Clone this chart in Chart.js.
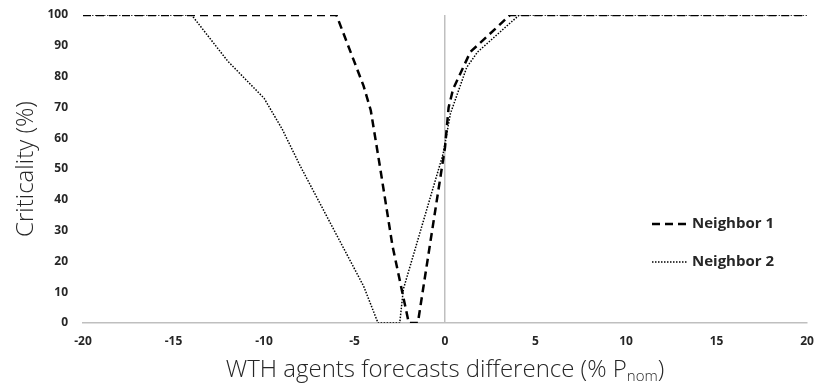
<!DOCTYPE html>
<html>
<head>
<meta charset="utf-8">
<script src="https://cdn.jsdelivr.net/npm/chart.js@4/dist/chart.umd.min.js"></script>
<style>
  html, body { margin: 0; padding: 0; background: #fff; }
  #wrap { width: 817px; height: 387px; }
</style>
</head>
<body>
<div id="wrap"><canvas id="chart"></canvas></div>
<script>
// values
const n1X = [-20, -6, -4.5, -4.1, -3.6, -2.9, -2, -1.5, 0, 0.2, 0.45, 1.4, 3.6, 20];
const n1Y = [100, 100, 77, 69, 51, 25, 0, 0, 57, 70, 76, 88, 100, 100];
const n2X = [-20, -14, -12, -10, -9, -8, -4.5, -3.7, -2.5, -2.3, -0.1, 0.3, 1.2, 1.8, 4.1, 20];
const n2Y = [100, 100, 85, 73, 63, 51, 12, 0, 0, 11, 55, 68, 83, 88, 100, 100];
const seriesNames = ['Neighbor 1', 'Neighbor 2'];
const xTicks = [-20, -15, -10, -5, 0, 5, 10, 15, 20];
const yTicks = [0, 10, 20, 30, 40, 50, 60, 70, 80, 90, 100];

const pts = (xs, ys) => xs.map((x, i) => ({ x: x, y: ys[i] }));

const tickFont = { family: 'Open Sans', size: 12, weight: 'bold' };

// axis titles (x title needs a subscript) and in-plot legend
const annotations = {
    id: 'annotations',
    afterDraw(chart) {
        const ctx = chart.ctx;
        const area = chart.chartArea;
        ctx.save();
        ctx.fillStyle = '#262626';

        // y title
        ctx.font = '300 24px "Open Sans"';
        ctx.textAlign = 'center';
        ctx.textBaseline = 'middle';
        ctx.translate(26, (area.top + area.bottom) / 2);
        ctx.rotate(-Math.PI / 2);
        ctx.fillText('Criticality (%)', 0, 0);
        ctx.setTransform(1, 0, 0, 1, 0, 0);

        // x title
        const main = 'WTH agents forecasts difference (% P';
        const sub = 'nom';
        const close = ')';
        ctx.textAlign = 'left';
        ctx.textBaseline = 'alphabetic';
        ctx.font = '300 24px "Open Sans"';
        const wMain = ctx.measureText(main).width;
        const wClose = ctx.measureText(close).width;
        ctx.font = '300 15px "Open Sans"';
        const wSub = ctx.measureText(sub).width;
        let x = (area.left + area.right) / 2 - (wMain + wSub + wClose) / 2;
        const base = 377;
        ctx.font = '300 24px "Open Sans"';
        ctx.fillText(main, x, base);
        x += wMain;
        ctx.font = '300 15px "Open Sans"';
        ctx.fillText(sub, x, base + 4);
        x += wSub;
        ctx.font = '300 24px "Open Sans"';
        ctx.fillText(close, x, base);

        // legend
        const rows = [224, 262];
        chart.data.datasets.forEach((ds, i) => {
            const y = rows[i];
            ctx.beginPath();
            ctx.strokeStyle = ds.borderColor;
            ctx.lineWidth = ds.borderWidth;
            ctx.setLineDash(ds.borderDash);
            ctx.moveTo(652, y);
            ctx.lineTo(688, y);
            ctx.stroke();
            ctx.setLineDash([]);
            ctx.fillStyle = '#262626';
            ctx.font = 'bold 15px "Open Sans"';
            ctx.textBaseline = 'middle';
            ctx.fillText(ds.label, 692, y);
        });
        ctx.restore();
    }
};

new Chart(document.getElementById('chart'), {
    type: 'line',
    data: {
        datasets: [
            { label: seriesNames[0], data: pts(n1X, n1Y), borderColor: '#000', borderWidth: 2.5, borderDash: [8, 5], pointRadius: 0, tension: 0, fill: false },
            { label: seriesNames[1], data: pts(n2X, n2Y), borderColor: '#000', borderWidth: 1.5, borderDash: [1.5, 1.5], pointRadius: 0, tension: 0, fill: false }
        ]
    },
    options: {
        responsive: true,
        maintainAspectRatio: false,
        animation: false,
        layout: { padding: { top: 15, right: 10, left: 0, bottom: 0 } },
        plugins: { legend: { display: false }, tooltip: { enabled: false } },
        scales: {
            x: {
                type: 'linear',
                min: xTicks[0],
                max: xTicks[xTicks.length - 1],
                afterBuildTicks: s => { s.ticks = xTicks.map(v => ({ value: v })); },
                afterFit: s => { s.height = 64; s.paddingRight = 0; s.paddingLeft = 0; },
                ticks: { font: tickFont, color: '#262626', padding: 11, maxRotation: 0 },
                grid: {
                    drawTicks: false,
                    color: c => (c.tick && c.tick.value === 0 ? '#bfbfbf' : 'rgba(0,0,0,0)'),
                    lineWidth: 1.5
                },
                border: { display: true, color: '#bfbfbf', width: 1.5 }
            },
            y: {
                min: yTicks[0],
                max: yTicks[yTicks.length - 1],
                afterBuildTicks: s => { s.ticks = yTicks.map(v => ({ value: v })); },
                afterFit: s => { s.width = 83; s.paddingTop = 0; s.paddingBottom = 0; },
                ticks: { font: tickFont, color: '#262626', padding: 15 },
                grid: { display: false, drawTicks: false },
                border: { display: false }
            }
        }
    },
    plugins: [annotations]
});
</script>
</body>
</html>
